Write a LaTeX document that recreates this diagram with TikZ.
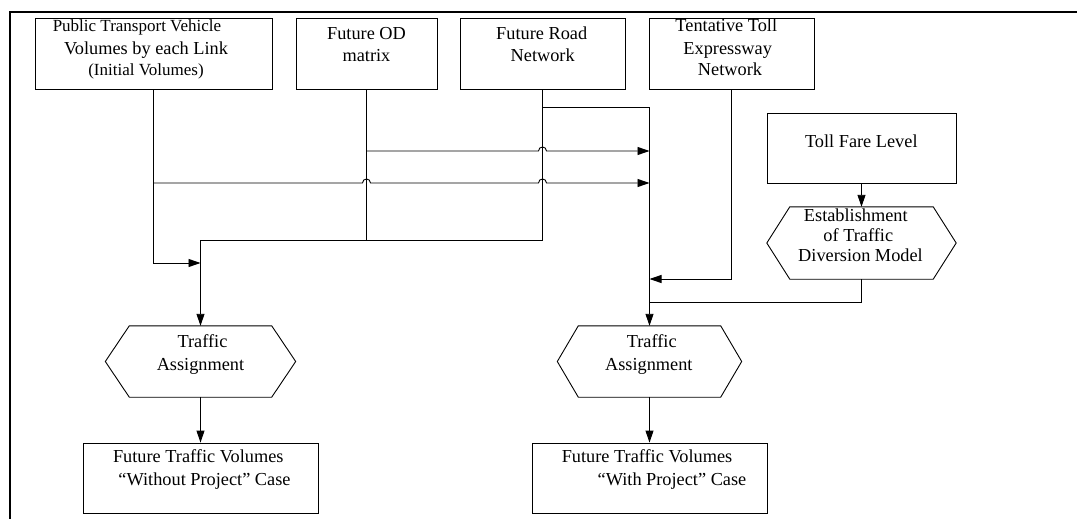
\documentclass[tikz,border=0pt]{standalone}
\usepackage{fontspec}
\setmainfont{Liberation Serif}
\usetikzlibrary{arrows.meta}
\tikzset{
  ln/.style={line width=0.9pt, draw=black},
  arr/.style={ln, -{Triangle[length=12pt,width=8pt]}},
  box/.style={draw, line width=0.9pt, inner sep=0pt},
  hexa/.style={inner sep=0pt},
  txt/.style={inner sep=0pt, anchor=base, font=\fontsize{18.3}{21.7}\selectfont},
  stxt/.style={txt, font=\fontsize{17}{21}\selectfont},
  frame/.style={line width=1.8pt}
}
\newcommand\hexdraw[2]{%
  \draw[ln] (#1.west) -- ([xshift=#2]#1.north west) -- ([xshift=-#2]#1.north east)
    -- (#1.east) -- ([xshift=-#2]#1.south east) -- ([xshift=#2]#1.south west) -- cycle;}
\begin{document}
\begin{tikzpicture}[x=1pt,y=-1pt]
\useasboundingbox (0,0) rectangle (1077,519);
\draw[frame] (10,519) -- (10,12) -- (1077,12);

% boxes
\node[box, minimum width=237pt, minimum height=71pt] (b1) at (153.5,53.5) {};
\node[box, minimum width=141pt, minimum height=71pt] (b2) at (366.5,53.5) {};
\node[box, minimum width=165pt, minimum height=71pt] (b3) at (542.5,53.5) {};
\node[box, minimum width=165pt, minimum height=71pt] (b4) at (731.5,53.5) {};
\node[box, minimum width=189pt, minimum height=70pt] (b5) at (861.5,148) {};
\node[box, minimum width=235pt, minimum height=70pt] (bL) at (200.5,478) {};
\node[box, minimum width=235pt, minimum height=70pt] (bR) at (649.5,478) {};

% hexagons
\node[hexa, minimum width=189pt, minimum height=72pt] (hE) at (861.5,243) {};
\node[hexa, minimum width=190pt, minimum height=71pt] (hL) at (200.5,361.5) {};
\node[hexa, minimum width=184pt, minimum height=71pt] (hR) at (649.5,361.5) {};
\hexdraw{hE}{23pt}
\hexdraw{hL}{24pt}
\hexdraw{hR}{21pt}

% texts
\node[stxt] (t1a) at (137,31.7) {Public Transport Vehicle};
\node[txt] (t1b) at (146,55) {Volumes by each Link};
\node[stxt] (t1c) at (146,76) {(Initial Volumes)};
\node[txt] (t2a) at (366.5,39.5) {Future OD};
\node[txt] (t2b) at (366.5,61.3) {matrix};
\node[txt] (t3a) at (541.7,39.5) {Future Road};
\node[txt] (t3b) at (542.7,61.3) {Network};
\node[txt] (t4a) at (726.3,32) {Tentative Toll};
\node[txt] (t4b) at (727.7,54.3) {Expressway};
\node[txt] (t4c) at (730,75.5) {Network};
\node[txt] (t5) at (861.3,147.3) {Toll Fare Level};
\node[txt] (tEa) at (855.8,221.7) {Establishment};
\node[txt] (tEb) at (858.3,241.7) {of Traffic};
\node[txt] (tEc) at (860.5,261.7) {Diversion Model};
\node[txt] (tLa) at (202.5,347.3) {Traffic};
\node[txt] (tLb) at (200.5,370.7) {Assignment};
\node[txt] (tRa) at (651.7,347.3) {Traffic};
\node[txt] (tRb) at (648.8,370.7) {Assignment};
\node[txt] (tBLa) at (198.3,462.3) {Future Traffic Volumes};
\node[txt] (tBLb) at (204.5,485.7) {“Without Project” Case};
\node[txt] (tBRa) at (647,462.3) {Future Traffic Volumes};
\node[txt] (tBRb) at (672,485.7) {“With Project” Case};

% junction coordinates
\coordinate (cL1) at (200.5,263);
\coordinate (cL2) at (200.5,240);
\coordinate (cR0) at (649.5,107);
\coordinate (cR1) at (649.5,151);
\coordinate (cR2) at (649.5,183);
\coordinate (cR3) at (649.5,279);
\coordinate (cR4) at (649.5,302);

% connectors
\draw[arr] (b1.south) |- (cL1);
\draw[arr] (b1.south |- cR2) -- (362.5,183)
  .. controls (362.5,177.7) and (370.5,177.7) .. (370.5,183) -- (538.5,183)
  .. controls (538.5,177.7) and (546.5,177.7) .. (546.5,183) -- (cR2);
\draw[ln] (b2.south) -- (b2.south |- cL2);
\draw[arr] (b2.south |- cR1) -- (538.5,151)
  .. controls (538.5,145.7) and (546.5,145.7) .. (546.5,151) -- (cR1);
\draw[arr] (b3.south) |- (cL2) -- (hL.north);
\draw[arr] (b3.south |- cR0) -| (hR.north);
\draw[arr] (b4.south) |- (cR3);
\draw[arr] (b5.south) -- (hE.north);
\draw[ln] (hE.south) |- (cR4);
\draw[arr] (hL.south) -- (bL.north);
\draw[arr] (hR.south) -- (bR.north);
\end{tikzpicture}
\end{document}
